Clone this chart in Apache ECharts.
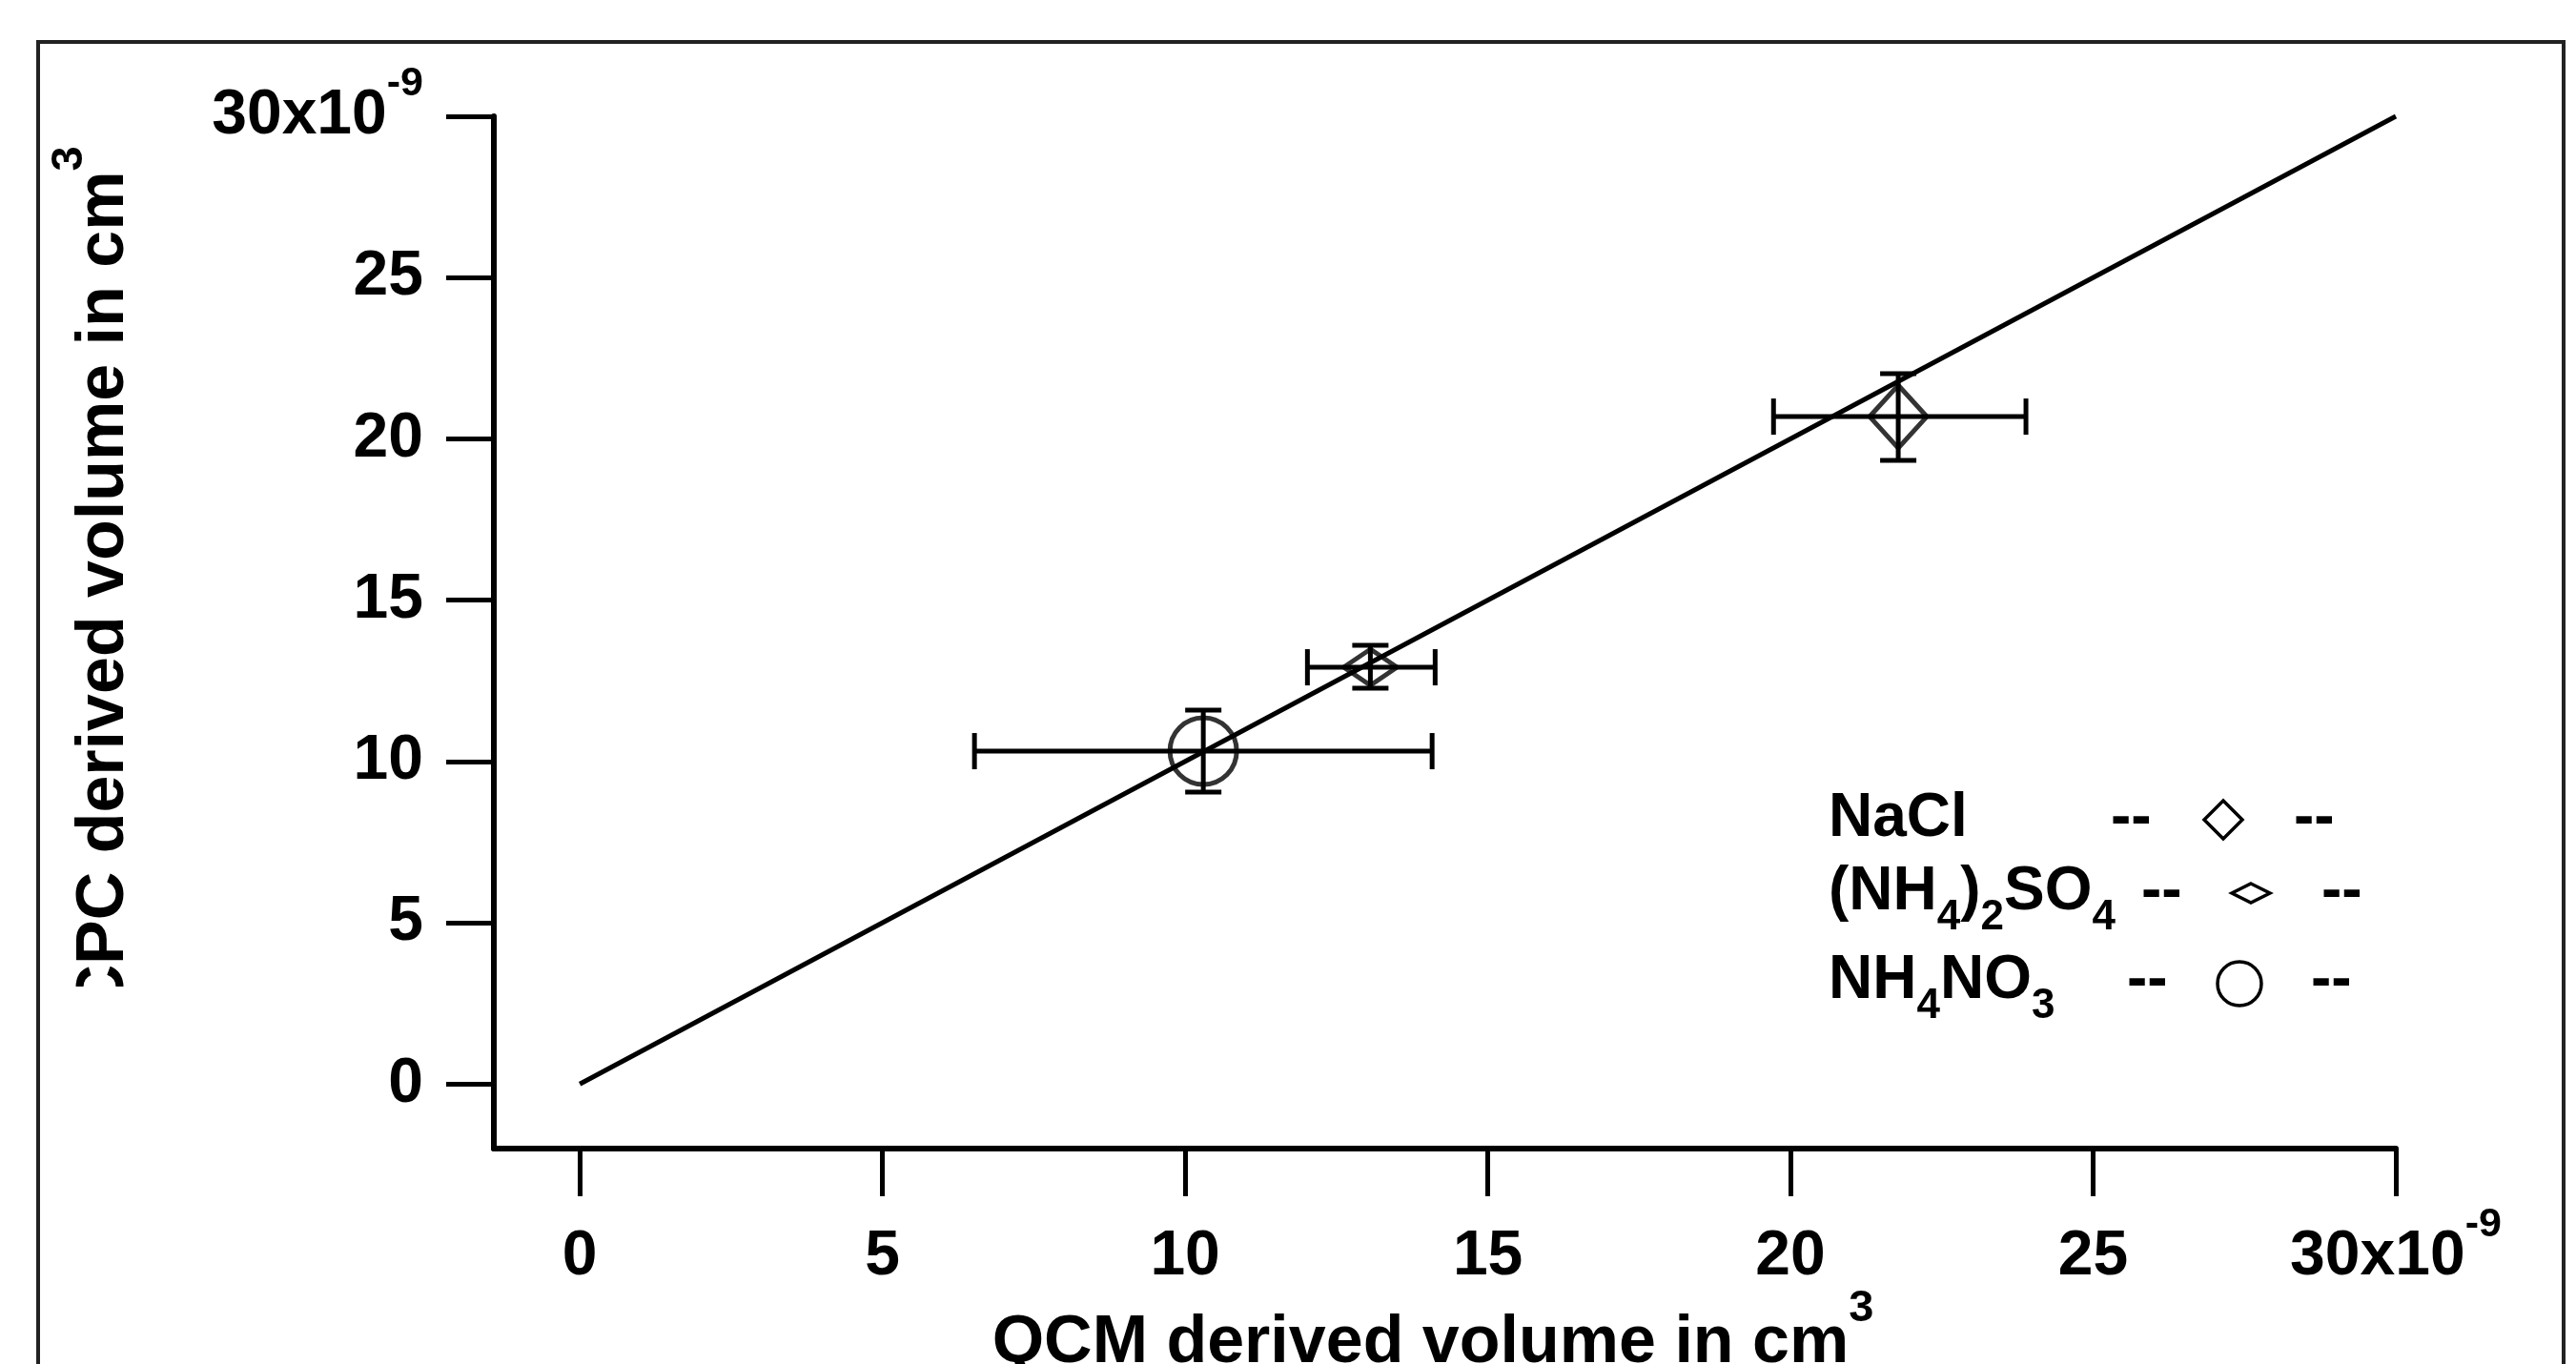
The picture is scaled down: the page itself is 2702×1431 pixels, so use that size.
<!DOCTYPE html>
<html>
<head>
<meta charset="utf-8">
<title>CPC vs QCM derived volume</title>
<script src="https://cdn.jsdelivr.net/npm/echarts@6/dist/echarts.min.js"></script>
<style>
  html, body { margin: 0; padding: 0; background: #fff; }
  #main { width: 2702px; height: 1431px; }
</style>
</head>
<body>
<div id="main"></div>
<script>
// volumes in units of 1e-9 cm^3
const species = ['NaCl', '(NH4)2SO4', 'NH4NO3'];
const qcmVolume = [21.78, 13.06, 10.3];
const qcmLow = [19.72, 12.02, 6.52];
const qcmHigh = [23.89, 14.13, 14.08];
const cpcVolume = [20.69, 12.92, 10.32];
const cpcLow = [19.33, 12.27, 9.05];
const cpcHigh = [22.02, 13.6, 11.59];
const oneToOne = [[0, 0], [30, 30]];
const tickValues = [0, 5, 10, 15, 20, 25, 30];

const FONT = '"Liberation Sans", Arial, Helvetica, sans-serif';
const markerStyle = {
  'NaCl': { symbol: 'diamond', size: [60, 66] },
  '(NH4)2SO4': { symbol: 'diamond', size: [56, 38] },
  'NH4NO3': { symbol: 'circle', size: 70 }
};

const errRows = species.map((s, i) => [qcmVolume[i], cpcVolume[i], qcmLow[i], qcmHigh[i], cpcLow[i], cpcHigh[i]]);
const points = species.map((s, i) => ({
  name: s,
  value: [qcmVolume[i], cpcVolume[i]],
  symbol: markerStyle[s].symbol,
  symbolSize: markerStyle[s].size
}));

const tickFmt = v => v === 30 ? '{m|30x10}{e|-9}' : String(v);
const labelRich = {
  m: { fontSize: 66, fontWeight: 'bold', fontFamily: FONT, color: '#000', lineHeight: 110 },
  e: { fontSize: 43, fontWeight: 'bold', fontFamily: FONT, color: '#000', lineHeight: 43, verticalAlign: 'top' }
};
const textRich = {
  m: { fontSize: 70, fontWeight: 'bold', fontFamily: FONT, fill: '#000', lineHeight: 120 },
  e: { fontSize: 47, fontWeight: 'bold', fontFamily: FONT, fill: '#000', lineHeight: 47, verticalAlign: 'top' }
};
const legRich = {
  m: { fontSize: 64, fontWeight: 'bold', fontFamily: FONT, fill: '#000', lineHeight: 110 },
  s: { fontSize: 44, fontWeight: 'bold', fontFamily: FONT, fill: '#000', lineHeight: 44, verticalAlign: 'top', padding: [60, 0, 0, 0] }
};

function axisCommon() {
  return {
    type: 'value',
    max: 30,
    axisLine: { show: true, onZero: false, lineStyle: { color: '#000', width: 6 } },
    axisTick: { show: true, inside: false, length: 50, customValues: tickValues, lineStyle: { color: '#000', width: 5 } },
    axisLabel: {
      customValues: tickValues,
      formatter: tickFmt,
      fontSize: 66, fontWeight: 'bold', fontFamily: FONT, color: '#000', lineHeight: 110,
      rich: labelRich
    },
    splitLine: { show: false }
  };
}

const xAxis = Object.assign(axisCommon(), { min: -1.42 });
xAxis.axisLabel.margin = 59;
const yAxis = Object.assign(axisCommon(), { min: -2 });
yAxis.axisLabel.margin = 74;

function legendText(x, y, text) {
  return { type: 'text', x: x, y: y, z: 10, style: { text: text, rich: legRich, align: 'left', verticalAlign: 'middle' } };
}
function dash(x, y) {
  return { type: 'text', x: x, y: y, z: 10, style: { text: '--', fontSize: 64, fontWeight: 'bold', fontFamily: FONT, fill: '#000', align: 'left', verticalAlign: 'middle' } };
}
const legStroke = { fill: null, stroke: '#000', lineWidth: 3.5 };

const chart = echarts.init(document.getElementById('main'), null, { renderer: 'canvas' });
chart.setOption({
  backgroundColor: '#fff',
  animation: false,
  grid: { left: 518, right: 189, top: 122, bottom: 226, containLabel: false, outerBoundsMode: 'none' },
  xAxis: xAxis,
  yAxis: yAxis,
  graphic: [
    { type: 'rect', z: -1, shape: { x: 40, y: 44, width: 2649, height: 1450 }, style: { fill: null, stroke: '#222', lineWidth: 4 } },
    { type: 'text', x: 110, y: 608, rotation: Math.PI / 2, z: 10,
      style: { text: '{m|CPC derived volume in cm}{e|3}', rich: textRich, align: 'center', verticalAlign: 'middle' } },
    { type: 'rect', z: 11, shape: { x: 60, y: 1035, width: 110, height: 80 }, style: { fill: '#fff', stroke: null } },
    { type: 'text', x: 1503, y: 1410, z: 10,
      style: { text: '{m|QCM derived volume in cm}{e|3}', rich: textRich, align: 'center', verticalAlign: 'middle' } },
    legendText(1918, 859, '{m|NaCl}'),
    legendText(1918, 936, '{m|(NH}{s|4}{m|)}{s|2}{m|SO}{s|4}'),
    legendText(1918, 1029, '{m|NH}{s|4}{m|NO}{s|3}'),
    dash(2214, 859), dash(2406, 859),
    dash(2246, 936), dash(2435, 936),
    dash(2231, 1029), dash(2424, 1029),
    { type: 'polygon', z: 10, shape: { points: [[2332, 840], [2352, 860], [2332, 880], [2312, 860]] }, style: legStroke },
    { type: 'polygon', z: 10, shape: { points: [[2361, 927], [2381, 937], [2361, 947], [2341, 937]] }, style: legStroke },
    { type: 'circle', z: 10, shape: { cx: 2349, cy: 1032, r: 23 }, style: legStroke }
  ],
  series: [
    {
      type: 'line',
      data: oneToOne,
      symbol: 'none',
      silent: true,
      z: 2,
      lineStyle: { color: '#000', width: 5 }
    },
    {
      type: 'custom',
      data: errRows,
      dimensions: ['x', 'y', 'xlo', 'xhi', 'ylo', 'yhi'],
      encode: { x: 0, y: 1 },
      silent: true,
      z: 3,
      renderItem: function (params, api) {
        const xl = api.coord([api.value(2), api.value(1)]);
        const xh = api.coord([api.value(3), api.value(1)]);
        const yl = api.coord([api.value(0), api.value(4)]);
        const yh = api.coord([api.value(0), api.value(5)]);
        const cap = 19;
        const st = { stroke: '#000', lineWidth: 5, fill: null };
        const seg = (x1, y1, x2, y2) => ({ type: 'line', shape: { x1: x1, y1: y1, x2: x2, y2: y2 }, style: st });
        return {
          type: 'group',
          children: [
            seg(xl[0], xl[1], xh[0], xh[1]),
            seg(xl[0], xl[1] - cap, xl[0], xl[1] + cap),
            seg(xh[0], xh[1] - cap, xh[0], xh[1] + cap),
            seg(yl[0], yl[1], yh[0], yh[1]),
            seg(yl[0] - cap, yl[1], yl[0] + cap, yl[1]),
            seg(yh[0] - cap, yh[1], yh[0] + cap, yh[1])
          ]
        };
      }
    },
    {
      type: 'scatter',
      data: points,
      silent: true,
      z: 4,
      itemStyle: { color: 'rgba(0,0,0,0)', borderColor: '#000', borderWidth: 5 },
      emphasis: { disabled: true }
    }
  ]
});
</script>
</body>
</html>
